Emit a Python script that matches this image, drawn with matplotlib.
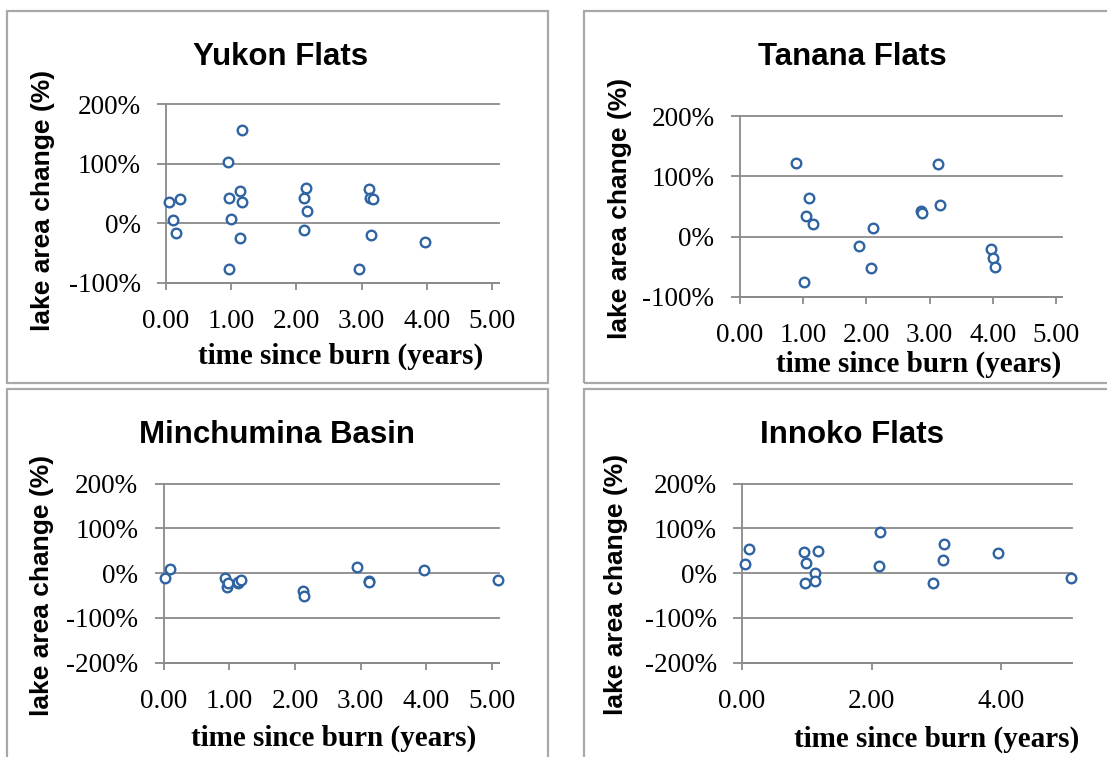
import matplotlib
matplotlib.use("Agg")
import matplotlib.pyplot as plt
from matplotlib.patches import Rectangle


# values (years since burn, % lake area change)
yukon_years = [0.04, 0.21, 0.10, 0.15, 0.95, 1.17, 0.96, 1.14, 1.17, 0.99, 1.14,
               0.97, 2.14, 2.12, 2.16, 2.12, 3.11, 3.13, 3.18, 3.14, 2.96, 3.97]
yukon_change = [35, 40, 5, -17, 103, 157, 43, 54, 35, 7, -25,
                -77, 60, 42, 20, -11, 58, 42, 40, -20, -77, -32]

tanana_years = [0.89, 1.10, 1.04, 1.16, 1.02, 1.89, 2.10, 2.08, 2.86, 2.88,
                3.14, 3.17, 3.97, 4.01, 4.03]
tanana_change = [122, 64, 34, 21, -75, -16, 14, -52, 42, 39,
                 120, 53, -21, -36, -51]

minchumina_years = [0.03, 0.10, 0.94, 0.96, 0.98, 1.13, 1.14, 1.18, 2.12, 2.13,
                    2.95, 3.12, 3.13, 3.96, 5.09]
minchumina_change = [-10, 10, -10, -31, -23, -23, -20, -16, -39, -51,
                     13, -17, -19, 7, -15]

innoko_years = [0.04, 0.10, 0.95, 1.18, 0.99, 1.13, 0.97, 1.13, 2.13, 2.12,
                3.12, 3.10, 2.95, 3.95, 5.08]
innoko_change = [21, 53, 48, 49, 23, 1, -22, -17, 92, 16,
                 65, 29, -22, 45, -10]

top_row_yticks = [-100, 0, 100, 200]
bottom_row_yticks = [-200, -100, 0, 100, 200]
xticks_every_year = [0, 1, 2, 3, 4, 5]
xticks_every_two = [0, 2, 4]

W, H = 1107, 757
GRID = "#8a8a8a"
FRAME = "#a8a8a8"
MARKER = "#2f64a2"

plt.rcParams["font.family"] = ["Liberation Serif", "DejaVu Serif"]

fig = plt.figure(figsize=(W / 100, H / 100), dpi=100)


def px_axes(left, top, right, bottom):
    return fig.add_axes([left / W, 1 - bottom / H, (right - left) / W, (bottom - top) / H])


def frame(left, top, right, bottom):
    fig.patches.append(Rectangle((left / W, 1 - bottom / H), (right - left) / W,
                                 (bottom - top) / H, transform=fig.transFigure,
                                 fill=False, edgecolor=FRAME, linewidth=1.6))


def draw_panel(box, years, change, yticks, xticks, title, title_xy, ylab_xy, xlab_xy):
    ax = px_axes(*box)
    ax.plot(years, change, linestyle="none", marker="o", markersize=6.9,
            markerfacecolor="white", markeredgecolor=MARKER, markeredgewidth=1.7,
            clip_on=False, zorder=3)
    ax.set_xlim(0, 5.1)
    ax.set_ylim(yticks[0], yticks[-1])
    ax.set_yticks(yticks)
    ax.set_yticklabels([f"{v}%" for v in yticks])
    ax.set_xticks(xticks)
    ax.set_xticklabels([f"{v:.2f}" for v in xticks])
    ax.grid(axis="y", color=GRID, linewidth=1.3)
    for line in ax.get_ygridlines():
        line.set_clip_on(False)
    for side in ["top", "right"]:
        ax.spines[side].set_visible(False)
    for side in ["left", "bottom"]:
        ax.spines[side].set_color(GRID)
        ax.spines[side].set_linewidth(1.3)
    ax.tick_params(axis="y", length=6.2, width=1.3, color=GRID, pad=12, labelsize=19.5)
    ax.tick_params(axis="x", length=5.2, width=1.3, color=GRID, pad=14, labelsize=19.5)
    ax.set_axisbelow(True)

    fig.text(title_xy[0] / W, 1 - title_xy[1] / H, title, family="Liberation Sans",
             fontsize=22.5, fontweight="bold", ha="center", va="center")
    fig.text(ylab_xy[0] / W, 1 - ylab_xy[1] / H, "lake area change (%)",
             family="Liberation Sans", fontsize=19, fontweight="bold",
             rotation=90, ha="center", va="center")
    fig.text(xlab_xy[0] / W, 1 - xlab_xy[1] / H, "time since burn (years)",
             fontsize=21, fontweight="bold", ha="center", va="center")
    return ax


frame(7, 11, 547.7, 383)
frame(584, 11, 1120, 383)
frame(7, 389, 547.7, 770)
frame(584, 389, 1120, 770)

draw_panel((166, 104.3, 498.7, 282.7), yukon_years, yukon_change, top_row_yticks,
           xticks_every_year, "Yukon Flats", (280.5, 57), (43, 200), (341, 356))
draw_panel((739.7, 116.3, 1062.4, 296.8), tanana_years, tanana_change, top_row_yticks,
           xticks_every_year, "Tanana Flats", (852.6, 57), (620, 208), (919, 364))
draw_panel((163.5, 483.7, 498.8, 662.7), minchumina_years, minchumina_change,
           bottom_row_yticks, xticks_every_year, "Minchumina Basin", (277, 435),
           (42, 585), (334, 738))
draw_panel((742.1, 483.7, 1072.2, 662.7), innoko_years, innoko_change,
           bottom_row_yticks, xticks_every_two, "Innoko Flats", (852, 435),
           (616, 584), (937, 739))

fig.savefig("out.png", dpi=100)
